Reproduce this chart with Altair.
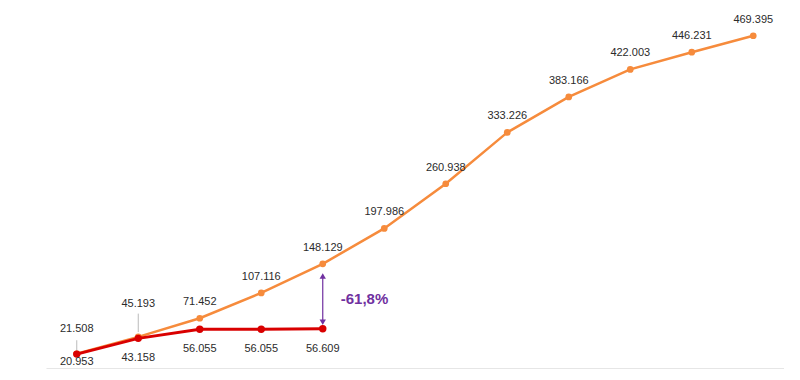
import altair as alt
import pandas as pd

categories = [str(i) for i in range(1, 13)]
orange_values = [21.508, 45.193, 71.452, 107.116, 148.129, 197.986, 260.938,
                 333.226, 383.166, 422.003, 446.231, 469.395]
red_values = [20.953, 43.158, 56.055, 56.055, 56.609]
orange_labels = ["21.508", "45.193", "71.452", "107.116", "148.129", "197.986",
                 "260.938", "333.226", "383.166", "422.003", "446.231", "469.395"]
red_labels = ["20.953", "43.158", "56.055", "56.055", "56.609"]
gap_label = "-61,8%"
arrow_low, arrow_high = 66, 131
gap_text_value = 99
leader_low = [24.5, 52.0]
leader_high = [40.5, 78.0]

FONT = "Liberation Sans Narrow, Liberation Sans, sans-serif"
ORANGE = "#F68B3C"
RED = "#D90000"
PURPLE = "#7030A0"
TXT = "#2b2b2b"

orange = pd.DataFrame({"cat": categories, "v": orange_values, "lab": orange_labels})
red = pd.DataFrame({"cat": categories[:5], "v": red_values, "lab": red_labels})

xs = alt.X("cat:N", sort=categories,
           scale=alt.Scale(type="point", domain=categories, padding=0.5),
           axis=alt.Axis(title=None, labels=False, ticks=False, domain=True,
                         domainColor="#9a9a9a", domainWidth=1.5, grid=False))
YSC = alt.Scale(domain=[0, 500], nice=False)
ys = alt.Y("v:Q", scale=YSC, axis=None)

base_o = alt.Chart(orange).encode(x=xs, y=ys)
base_r = alt.Chart(red).encode(x=xs, y=ys)

o_line = base_o.mark_line(color=ORANGE, strokeWidth=2.5)
o_pts = base_o.mark_point(color=ORANGE, filled=True, size=45, opacity=1)
o_lab = alt.Chart(orange.iloc[2:]).mark_text(
    dy=-16, font=FONT, fontSize=11, color=TXT
).encode(x=xs, y=ys, text="lab:N")
o0 = alt.Chart(orange.iloc[:1]).mark_text(dy=-25, font=FONT, fontSize=11, color=TXT).encode(x=xs, y=ys, text="lab:N")
o1 = alt.Chart(orange.iloc[1:2]).mark_text(dy=-33, font=FONT, fontSize=11, color=TXT).encode(x=xs, y=ys, text="lab:N")

r_line = base_r.mark_line(color=RED, strokeWidth=3)
r_pts = base_r.mark_point(color=RED, filled=True, size=55, opacity=1)
r_lab = alt.Chart(red.iloc[1:]).mark_text(
    dy=20, font=FONT, fontSize=11, color=TXT
).encode(x=xs, y=ys, text="lab:N")
r_lab0 = alt.Chart(red.iloc[:1]).mark_text(
    dy=8, font=FONT, fontSize=11, color=TXT
).encode(x=xs, y=ys, text="lab:N")

leader = pd.DataFrame({"cat": categories[:2], "y1": leader_low, "y2": leader_high})
lead_rule = alt.Chart(leader).mark_rule(color="#aaaaaa", strokeWidth=0.8).encode(
    x=xs, y=alt.Y("y1:Q", scale=YSC, axis=None), y2="y2:Q")

arr = pd.DataFrame({"cat": [categories[4]], "lo": [arrow_low], "hi": [arrow_high]})
arr_rule = alt.Chart(arr).mark_rule(color=PURPLE, strokeWidth=1.2).encode(
    x=xs, y=alt.Y("lo:Q", scale=YSC, axis=None), y2="hi:Q")
arr_up = alt.Chart(arr).mark_point(shape="triangle-up", filled=True, color=PURPLE, size=40, opacity=1).encode(
    x=xs, y=alt.Y("hi:Q", scale=YSC, axis=None))
arr_dn = alt.Chart(arr).mark_point(shape="triangle-down", filled=True, color=PURPLE, size=40, opacity=1).encode(
    x=xs, y=alt.Y("lo:Q", scale=YSC, axis=None))
gap = pd.DataFrame({"cat": [categories[4]], "v": [gap_text_value], "lab": [gap_label]})
gap_txt = alt.Chart(gap).mark_text(
    align="left", dx=18, font="Liberation Sans, sans-serif", fontSize=15, fontWeight="bold", color=PURPLE
).encode(x=xs, y=ys, text="lab:N")

chart = alt.layer(
    lead_rule, o_line, o_pts, r_line, r_pts, o_lab, o0, o1, r_lab, r_lab0,
    arr_rule, arr_up, arr_dn, gap_txt
).properties(
    width=738, height=355,
    autosize=alt.AutoSizeParams(type="none"),
    padding={"left": 38, "top": 6, "right": 0, "bottom": 0},
).configure_view(stroke=None)

chart.save("out.html", embed_options={"renderer": "svg", "actions": False})
